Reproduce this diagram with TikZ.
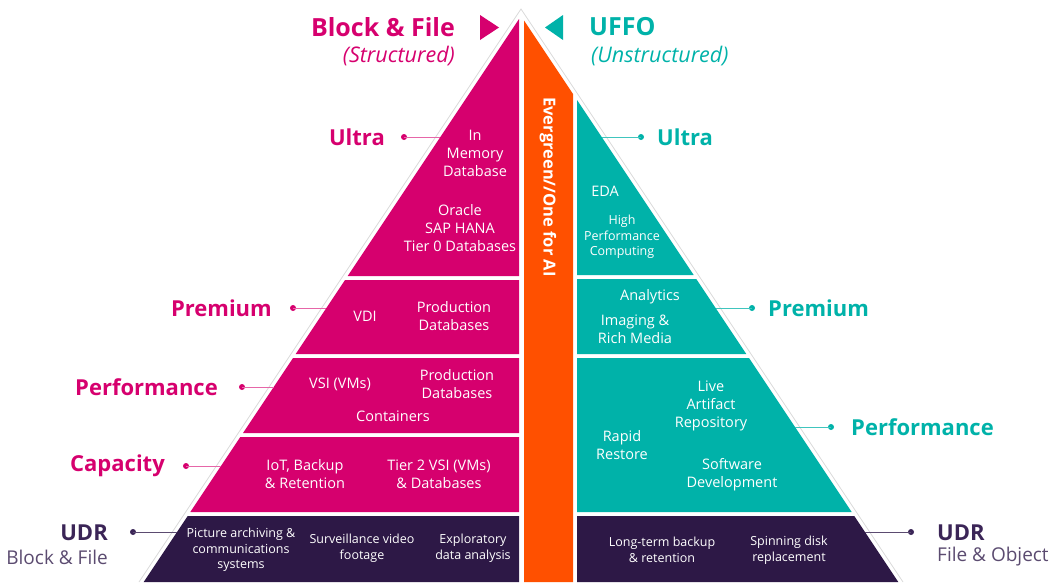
\documentclass[tikz,border=0pt]{standalone}
\usepackage{fontspec}
\setmainfont{Open Sans}
\definecolor{mag}{HTML}{D6006E}
\definecolor{tealc}{HTML}{00B2A9}
\definecolor{orangec}{HTML}{FF5000}
\definecolor{purp}{HTML}{2D1846}
\definecolor{purptxt}{HTML}{3B2557}
\definecolor{purpgrey}{HTML}{5B4B70}
\definecolor{outl}{HTML}{D9D9D9}
\tikzset{
  tx/.style={text=white, align=center, inner sep=0pt, font=\fontsize{14.5}{18}\selectfont},
  sm/.style={text=white, align=center, inner sep=0pt, font=\fontsize{12.5}{15.5}\selectfont},
  lbl/.style={inner sep=0pt, font=\bfseries\fontsize{22}{26}\selectfont},
  sub/.style={inner sep=0pt, font=\fontsize{19}{23}\selectfont},
  dotm/.style={circle, fill=mag, inner sep=0pt, minimum size=6pt},
  dott/.style={circle, fill=tealc, inner sep=0pt, minimum size=6pt},
  dotp/.style={circle, fill=purptxt, inner sep=0pt, minimum size=6pt},
  linem/.style={draw=mag!60, line width=1pt},
  linet/.style={draw=tealc!75, line width=1pt},
  linep/.style={draw=purpgrey, line width=1pt},
}
\begin{document}
\begin{tikzpicture}[x=1pt,y=-1pt]
\useasboundingbox (0,0) rectangle (1056,582);
% outer outline
\draw[outl, line width=0.8pt] (139,582) -- (521,9) -- (903,582);
% left magenta bands
\fill[mag] (519,19) -- (519,276) -- (347.7,276) -- cycle;
\fill[mag] (345,280) -- (519,280) -- (519,354) -- (295.7,354) -- cycle;
\fill[mag] (293,358) -- (519,358) -- (519,433) -- (243,433) -- cycle;
\fill[mag] (240.3,437) -- (519,437) -- (519,512) -- (190.3,512) -- cycle;
\fill[purp] (187.7,516) -- (519,516) -- (519,582) -- (143.7,582) -- cycle;
% orange column
\fill[orangec] (524,20.5) -- (573,94) -- (573,582) -- (524,582) -- cycle;
% right teal bands
\fill[tealc] (577,100) -- (693.7,275) -- (577,275) -- cycle;
\fill[tealc] (577,279) -- (696.3,279) -- (746.3,354) -- (577,354) -- cycle;
\fill[tealc] (577,358) -- (749,358) -- (851.7,512) -- (577,512) -- cycle;
\fill[purp] (577,516) -- (854.3,516) -- (898.3,582) -- (577,582) -- cycle;
% header
\node[lbl, text=mag, anchor=east, font=\bfseries\fontsize{25}{30}\selectfont] (hbf) at (455,27) {Block \& File};
\node[sub, text=mag, anchor=east, font=\itshape\fontsize{21.5}{25}\selectfont] (hst) at (455,56) {(Structured)};
\fill[mag] (480,15) -- (499,27.5) -- (480,40) -- cycle;
\fill[tealc] (563,15) -- (545,27.5) -- (563,40) -- cycle;
\node[lbl, text=tealc, anchor=west, font=\bfseries\fontsize{25}{30}\selectfont] (huf) at (589,27) {UFFO};
\node[sub, text=tealc, anchor=west, font=\itshape\fontsize{21.5}{25}\selectfont] (hun) at (591,56) {(Unstructured)};
% vertical text
\node[text=white, inner sep=0pt, rotate=-90, font=\bfseries\fontsize{16.5}{20}\selectfont] (evg) at (548,187) {Evergreen//One for AI};
% left labels
\node[lbl, text=mag, anchor=east] (lu) at (385,137) {Ultra};
\node[lbl, text=mag, anchor=east] (lp) at (272,308) {Premium};
\node[lbl, text=mag, anchor=east] (lpf) at (218,387) {Performance};
\node[lbl, text=mag, anchor=east] (lc) at (165,466) {Capacity};
\node[lbl, text=purptxt, anchor=east] (ludr) at (108,533) {UDR};
\node[sub, text=purpgrey, anchor=east] (lbf) at (108,557) {Block \& File};
\node[dotm] (dlu) at (404,137) {};
\node[dotm] (dlp) at (293,308) {};
\node[dotm] (dlpf) at (242,387) {};
\node[dotm] (dlc) at (186,466) {};
\node[dotp] (dludr) at (133,532) {};
\coordinate (elu) at (440.3,137);
\coordinate (elp) at (326.3,308);
\coordinate (elpf) at (273.7,387);
\coordinate (elc) at (221,466);
\coordinate (eludr) at (177,532);
\draw[linem] (dlu.center) -- (elu);
\draw[linem] (dlp.center) -- (elp);
\draw[linem] (dlpf.center) -- (elpf);
\draw[linem] (dlc.center) -- (elc);
\draw[linep] (dludr.center) -- (eludr);
% right labels
\node[lbl, text=tealc, anchor=west] (ru) at (657,137) {Ultra};
\node[lbl, text=tealc, anchor=west] (rp) at (768,308) {Premium};
\node[lbl, text=tealc, anchor=west] (rpf) at (851,427) {Performance};
\node[lbl, text=purptxt, anchor=west] (rudr) at (937,533) {UDR};
\node[sub, text=purpgrey, anchor=west] (rfo) at (937,557) {File \& Object};
\node[dott] (dru) at (641,137) {};
\node[dott] (drp) at (752,308) {};
\node[dott] (drpf) at (831,427) {};
\node[dotp] (drudr) at (911,532) {};
\coordinate (eru) at (601.7,137);
\coordinate (erp) at (715.7,308);
\coordinate (erpf) at (795,427);
\coordinate (erudr) at (865,532);
\draw[linet] (eru) -- (dru.center);
\draw[linet] (erp) -- (drp.center);
\draw[linet] (erpf) -- (drpf.center);
\draw[linep] (erudr) -- (drudr.center);
% left band texts
\node[tx] (t1) at (475,153) {In\\Memory\\Database};
\node[tx] (t2) at (460,228) {Oracle\\SAP HANA\\Tier 0 Databases};
\node[tx] (t3) at (365,316) {VDI};
\node[tx] (t4) at (454,316) {Production\\Databases};
\node[tx] (t5) at (340,384) {VSI (VMs)};
\node[tx] (t6) at (457,384) {Production\\Databases};
\node[tx] (t7) at (393,416) {Containers};
\node[tx] (t8) at (305,474) {IoT, Backup\\\& Retention};
\node[tx] (t9) at (439,474) {Tier 2 VSI (VMs)\\\& Databases};
\node[sm] (t10) at (241,550) {Picture archiving \&\\communications\\systems};
\node[sm] (t11) at (362,548) {Surveillance video\\footage};
\node[sm] (t12) at (473,548) {Exploratory\\data analysis};
% right band texts
\node[tx] (r1) at (605,191) {EDA};
\node[sm] (r2) at (622,237) {High\\Performance\\Computing};
\node[tx] (r3) at (650,297) {Analytics};
\node[tx] (r4) at (635,329) {Imaging \&\\Rich Media};
\node[tx] (r5) at (711,406) {Live\\Artifact\\Repository};
\node[tx] (r6) at (622,445) {Rapid\\Restore};
\node[tx] (r7) at (732,475) {Software\\Development};
\node[sm] (r8) at (662,550) {Long-term backup\\\& retention};
\node[sm] (r9) at (789,550) {Spinning disk\\replacement};
\end{tikzpicture}
\end{document}
